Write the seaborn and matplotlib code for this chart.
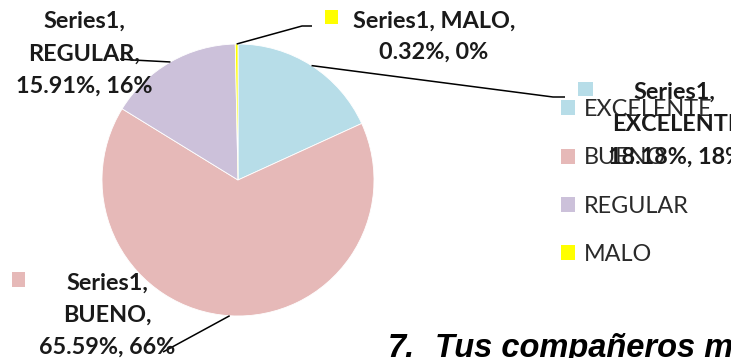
import matplotlib
matplotlib.use("Agg")
import matplotlib.pyplot as plt
from matplotlib.patches import Patch, Rectangle
import numpy as np
import seaborn as sns

# ---- data -------------------------------------------------------------
series_name = "Series1"
categories = ["EXCELENTE", "BUENO", "REGULAR", "MALO"]
percentages = [18.18, 65.59, 15.91, 0.32]
slice_colors = ["#B7DDE8", "#E6B9B8", "#CCC1DA", "#FFFF00"]
caption_number = "7."
caption_text = "Tus compañeros me"

# ---- style ------------------------------------------------------------
sns.set_theme(style="white")
plt.rcParams["font.family"] = ["Lato", "DejaVu Sans"]
palette = sns.color_palette(slice_colors)

W, H = 731, 358
FS = 16.8  # pt

fig = plt.figure(figsize=(W / 100, H / 100), dpi=100)
fig.patch.set_facecolor("white")
ax = fig.add_axes([0, 0, 1, 1])

# pixel-like coordinates, y grows downwards
cx, cy, R = 238, 180, 136
wedges, _ = ax.pie(
    percentages,
    colors=palette,
    center=(cx, cy),
    radius=R,
    startangle=-90,
    counterclock=True,
    wedgeprops=dict(edgecolor="white", linewidth=0.6),
    frame=True,
)
ax.set_xlim(0, W)
ax.set_ylim(H, 0)
ax.set_aspect("auto")
ax.axis("off")


def rim_point(w):
    mid = np.deg2rad((w.theta1 + w.theta2) / 2)
    return cx + R * np.cos(mid), cy + R * np.sin(mid)


def value_text(p):
    return f"{p:.2f}%, {round(p)}%"


# label layout: leader knee points, text lines and optional key square
layout = {
    "EXCELENTE": dict(
        leader=[(553, 97), (565, 97)],
        key=(578, 82, 15, 14),
        lines=[(f"{series_name},", 633, 99, "left"),
               ("{cat},", 612, 131, "left"),
               ("{val}", 608, 164, "left")],
    ),
    "BUENO": dict(
        leader=[(163, 352)],
        key=(12, 272, 13, 15),
        lines=[(f"{series_name},", 107, 290, "center"),
               ("{cat},", 107, 322, "center"),
               ("{val}", 107, 354, "center")],
    ),
    "REGULAR": dict(
        leader=[(133, 60), (120, 59)],
        key=None,
        lines=[(f"{series_name},", 84, 28, "center"),
               ("{cat},", 84, 61, "center"),
               ("{val}", 84, 93, "center")],
    ),
    "MALO": dict(
        leader=[(302, 26), (312, 26)],
        key=(325, 10, 13, 14),
        lines=[(f"{series_name}, {{cat}},", 353, 28, "left"),
               ("{val}", 434, 59, "center")],
    ),
}

for w, cat, p, col in zip(wedges, categories, percentages, palette):
    spec = layout[cat]
    x0, y0 = rim_point(w)
    xs = [x0] + [pt[0] for pt in spec["leader"]]
    ys = [y0] + [pt[1] for pt in spec["leader"]]
    ax.plot(xs, ys, color="black", lw=1.1, solid_capstyle="butt", zorder=4)
    if spec["key"] is not None:
        kx, ky, kw, kh = spec["key"]
        ax.add_patch(Rectangle((kx, ky), kw, kh, facecolor=col,
                               edgecolor="none", zorder=6))
    for tmpl, tx, ty, ha in spec["lines"]:
        ax.text(tx, ty, tmpl.format(cat=cat, val=value_text(p)),
                ha=ha, va="baseline", fontsize=FS, fontweight="bold",
                color="#1a1a1a", zorder=7)

# legend
handles = [Patch(facecolor=c, edgecolor="none", label=cat)
           for cat, c in zip(categories, palette)]
leg = ax.legend(
    handles=handles,
    loc="upper left",
    bbox_to_anchor=(561 / W, 1 - 99 / H),
    bbox_transform=fig.transFigure,
    frameon=False,
    fontsize=FS,
    handlelength=0.62,
    handleheight=0.62,
    handletextpad=0.36,
    labelspacing=1.17,
    borderpad=0,
    borderaxespad=0,
)
for t in leg.get_texts():
    t.set_color("#2a2a2a")

# caption below the chart
cap_kw = dict(fontsize=23.5, fontweight="bold", fontstyle="italic",
              family=["Liberation Sans", "DejaVu Sans"], color="black",
              va="baseline", ha="left")
ax.text(388, 357, caption_number, **cap_kw)
ax.text(435, 357, caption_text, **cap_kw)

fig.savefig("out.png", dpi=100, facecolor="white")
